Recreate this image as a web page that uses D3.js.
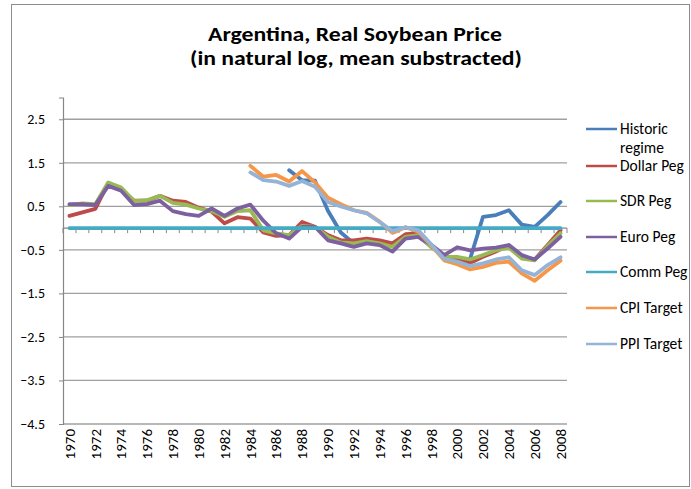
<!DOCTYPE html>
<html>
<head>
<meta charset="utf-8">
<script src="https://cdn.jsdelivr.net/npm/d3@7"></script>
<style>
  html, body { margin: 0; padding: 0; background: #fff; }
  svg { display: block; }
  text { font-family: "Carlito", "Lato", "Open Sans", sans-serif; fill: #000; }
</style>
</head>
<body>
<svg id="chart" width="691" height="489"></svg>
<script>
const years = d3.range(1970, 2009);
const yTicks = [2.5, 1.5, 0.5, -0.5, -1.5, -2.5, -3.5, -4.5];
const xTickLabels = d3.range(1970, 2009, 2);

const historicYears = d3.range(1987, 2009);
const historic = [1.33, 1.10, 1.09, 0.40, -0.10, -0.35, -0.30, -0.33, -0.42, -0.22, -0.20, -0.42,
  -0.68, -0.72, -0.71, 0.26, 0.30, 0.41, 0.08, 0.03, 0.30, 0.60];

const dollarPeg = [0.28, 0.36, 0.44, 1.03, 0.89, 0.63, 0.63, 0.74, 0.63, 0.60,
  0.47, 0.38, 0.11, 0.25, 0.22, -0.10, -0.18, -0.16, 0.14, 0.03,
  -0.16, -0.28, -0.28, -0.24, -0.28, -0.35, -0.14, -0.12, -0.42, -0.66,
  -0.70, -0.80, -0.66, -0.54, -0.39, -0.66, -0.72, -0.39, -0.05];

const sdrPeg = [0.53, 0.57, 0.55, 1.05, 0.93, 0.62, 0.64, 0.74, 0.58, 0.54,
  0.45, 0.39, 0.26, 0.39, 0.41, -0.05, -0.12, -0.16, 0.05, 0.03,
  -0.20, -0.33, -0.35, -0.30, -0.35, -0.43, -0.20, -0.16, -0.44, -0.66,
  -0.66, -0.72, -0.62, -0.51, -0.45, -0.70, -0.74, -0.41, -0.12];

const euroPeg = [0.55, 0.55, 0.53, 0.97, 0.86, 0.53, 0.55, 0.63, 0.39, 0.32,
  0.28, 0.45, 0.28, 0.45, 0.54, 0.17, -0.12, -0.24, 0.03, 0.03,
  -0.28, -0.35, -0.43, -0.35, -0.39, -0.54, -0.24, -0.20, -0.38, -0.62,
  -0.44, -0.51, -0.47, -0.45, -0.39, -0.62, -0.72, -0.47, -0.20];

const commPeg = years.map(() => 0);

const targetYears = d3.range(1984, 2009);
const cpiTarget = [1.43, 1.18, 1.22, 1.07, 1.31, 1.05, 0.70, 0.55, 0.41, 0.35, 0.15, -0.11, 0.02, -0.08, -0.40,
  -0.74, -0.83, -0.95, -0.89, -0.80, -0.77, -1.04, -1.21, -0.97, -0.75];
const ppiTarget = [1.28, 1.10, 1.07, 0.97, 1.08, 0.95, 0.60, 0.50, 0.41, 0.34, 0.14, -0.07, 0.02, -0.05, -0.38,
  -0.71, -0.77, -0.87, -0.81, -0.72, -0.67, -0.97, -1.08, -0.85, -0.67];

const seriesNames = ["Historic regime", "Dollar Peg", "SDR Peg", "Euro Peg", "Comm Peg", "CPI Target", "PPI Target"];
const seriesColors = ["#4A7EBB", "#BE4B48", "#98B954", "#7D60A0", "#46AAC5", "#F79646", "#95B3D7"];
const seriesYears = [historicYears, years, years, years, years, targetYears, targetYears];
const seriesValues = [historic, dollarPeg, sdrPeg, euroPeg, commPeg, cpiTarget, ppiTarget];

const svg = d3.select("#chart");

// chart border
svg.append("rect").attr("x", 11.5).attr("y", 4.5).attr("width", 678).attr("height", 482)
  .attr("fill", "#fff").attr("stroke", "#8c8c8c").attr("stroke-width", 1);

const x = d3.scaleBand().domain(years).range([63, 567]).padding(0);
const y = d3.scaleLinear().domain([-4.5, 3]).range([424, 97.5]);
const cx = yr => x(yr) + x.bandwidth() / 2;

// gridlines
svg.append("g").selectAll("line").data(yTicks).join("line")
  .attr("x1", 63).attr("x2", 567)
  .attr("y1", d => y(d)).attr("y2", d => y(d))
  .attr("stroke", "#a0a0a0").attr("stroke-width", 1.3);

// y axis
const yAxis = svg.append("g").attr("transform", "translate(63,0)")
  .call(d3.axisLeft(y).tickValues(yTicks).tickSize(4).tickPadding(14).tickFormat(d3.format(".1f")));
yAxis.select(".domain").attr("stroke", "#868686").attr("stroke-width", 1.2);
yAxis.selectAll(".tick line").attr("stroke", "#868686");
yAxis.selectAll(".tick text").attr("font-size", "14px").attr("font-family", "Carlito, Lato, sans-serif").attr("fill", "#000");

// x axis at zero
const zeroY = y(0);
svg.append("line").attr("x1", 63).attr("x2", 567).attr("y1", zeroY).attr("y2", zeroY)
  .attr("stroke", "#868686").attr("stroke-width", 1.2);
const bounds = years.map(d => x(d)).concat([567]);
svg.append("g").selectAll("line").data(bounds).join("line")
  .attr("x1", d => d).attr("x2", d => d)
  .attr("y1", zeroY).attr("y2", zeroY + 5)
  .attr("stroke", "#868686").attr("stroke-width", 1);

// x labels
svg.append("g").selectAll("text").data(xTickLabels).join("text")
  .attr("transform", d => `translate(${cx(d)},429) rotate(-90)`)
  .attr("dy", "0.35em")
  .attr("text-anchor", "end")
  .attr("font-size", "15px")
  .text(d => d);

// lines
const line = d3.line().x(d => cx(d[0])).y(d => y(d[1]));
seriesNames.forEach((name, i) => {
  const pts = seriesYears[i].map((yr, j) => [yr, seriesValues[i][j]]);
  svg.append("path").datum(pts)
    .attr("d", line)
    .attr("fill", "none")
    .attr("stroke", seriesColors[i])
    .attr("stroke-width", 3.8)
    .attr("stroke-linejoin", "round")
    .attr("stroke-linecap", "round");
});

// legend
const legendY = [129, 166, 201, 237, 272, 308, 344];
const lg = svg.append("g");
seriesNames.forEach((name, i) => {
  lg.append("line").attr("x1", 586).attr("x2", 617)
    .attr("y1", legendY[i]).attr("y2", legendY[i])
    .attr("stroke", seriesColors[i]).attr("stroke-width", 2.5);
  if (i === 0) {
    const t = lg.append("text").attr("x", 620).attr("y", legendY[i]).attr("dy", "0.35em").attr("font-size", "15.5px");
    t.append("tspan").attr("x", 620).text("Historic");
    t.append("tspan").attr("x", 620).attr("dy", "1.2em").text("regime");
  } else {
    lg.append("text").attr("x", 620).attr("y", legendY[i]).attr("dy", "0.35em")
      .attr("font-size", "15.5px").text(name);
  }
});

// title
svg.append("text").attr("x", 355).attr("y", 41).attr("text-anchor", "middle")
  .attr("font-size", "20px").attr("font-weight", "bold")
  .attr("textLength", 294).attr("lengthAdjust", "spacingAndGlyphs")
  .text("Argentina, Real Soybean Price");
svg.append("text").attr("x", 356).attr("y", 65).attr("text-anchor", "middle")
  .attr("font-size", "20px").attr("font-weight", "bold")
  .attr("textLength", 332).attr("lengthAdjust", "spacingAndGlyphs")
  .text("(in natural log, mean substracted)");
</script>
</body>
</html>
